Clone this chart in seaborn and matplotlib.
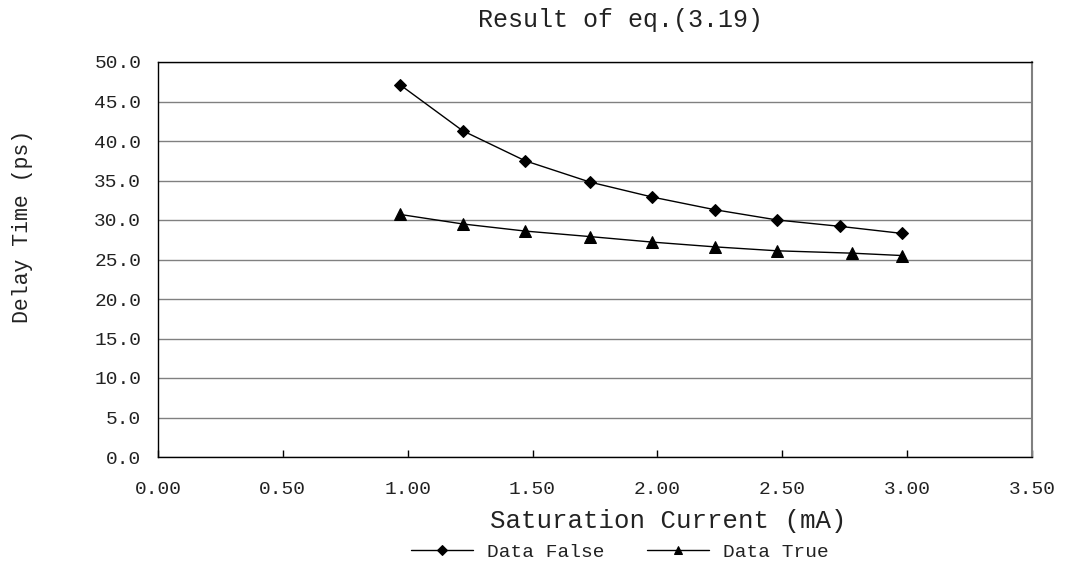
import matplotlib
matplotlib.use("Agg")
import matplotlib.pyplot as plt
import pandas as pd
import seaborn as sns

# Saturation current (mA) and delay time (ps) for both cases
current_false = [0.97, 1.22, 1.47, 1.73, 1.98, 2.23, 2.48, 2.73, 2.98]
delay_false = [47.1, 41.3, 37.5, 34.8, 32.9, 31.3, 30.0, 29.2, 28.3]
current_true = [0.97, 1.22, 1.47, 1.73, 1.98, 2.23, 2.48, 2.78, 2.98]
delay_true = [30.7, 29.5, 28.6, 27.9, 27.2, 26.6, 26.1, 25.8, 25.5]

x_ticks = [0.0, 0.5, 1.0, 1.5, 2.0, 2.5, 3.0, 3.5]
y_ticks = [0, 5, 10, 15, 20, 25, 30, 35, 40, 45, 50]

sns.set_theme(style="white")
plt.rcParams["font.family"] = ["Liberation Mono", "DejaVu Sans Mono"]

df_false = pd.DataFrame({"current": current_false, "delay": delay_false})
df_true = pd.DataFrame({"current": current_true, "delay": delay_true})

fig = plt.figure(figsize=(10.7, 5.65), dpi=100)
ax = fig.add_axes([158 / 1070, 1 - 457 / 565, (1032 - 158) / 1070, (457 - 62) / 565])

sns.lineplot(data=df_false, x="current", y="delay", ax=ax, color="black",
             linewidth=1.0, marker="D", markersize=6.5, markeredgecolor="black",
             sort=False, label="Data False", zorder=3)
sns.lineplot(data=df_true, x="current", y="delay", ax=ax, color="black",
             linewidth=1.0, marker="^", markersize=8, markeredgecolor="black",
             sort=False, label="Data True", zorder=3)

ax.set_xlim(0, 3.5)
ax.set_ylim(0, 50)
ax.set_xticks(x_ticks)
ax.set_xticklabels([f"{v:.2f}" for v in x_ticks])
ax.set_yticks(y_ticks)
ax.set_yticklabels([f"{v:.1f}" for v in y_ticks])

ax.yaxis.grid(True, color="#808080", linewidth=1.0)
ax.xaxis.grid(False)
ax.set_axisbelow(True)

for side in ["left", "bottom", "top"]:
    ax.spines[side].set_color("black")
    ax.spines[side].set_linewidth(1.0)
ax.spines["right"].set_color("#808080")
ax.spines["right"].set_linewidth(1.5)

ax.tick_params(axis="x", direction="in", length=5, width=1, color="black",
               pad=17, labelsize=14, labelcolor="#222222", bottom=True)
ax.tick_params(axis="y", length=0, pad=12, labelsize=14, labelcolor="#222222")

ax.set_xlabel("")
ax.set_ylabel("")
ax.get_legend().remove()

fig.text(621 / 1070, 1 - 20 / 565, "Result of eq.(3.19)", ha="center", va="center",
         fontsize=18, color="#222222")
fig.text(668 / 1070, 1 - 521 / 565, "Saturation Current (mA)", ha="center", va="center",
         fontsize=18.5, color="#222222")
fig.text(23 / 1070, 1 - 226 / 565, "Delay Time (ps)", ha="center", va="center",
         rotation=90, fontsize=15.5, color="#222222")

handles, labels = ax.get_legend_handles_labels()
fig.legend(handles, labels, loc="center", bbox_to_anchor=(620 / 1070, 1 - 552 / 565),
           ncol=2, frameon=False, fontsize=14, handlelength=3.2, columnspacing=2.2,
           handletextpad=0.7, markerscale=0.8, labelcolor="#222222")

fig.savefig("out.png", dpi=100)
